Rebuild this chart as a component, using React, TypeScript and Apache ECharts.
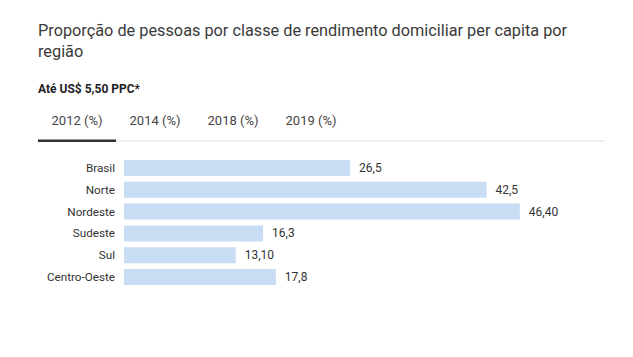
import React, { useEffect, useRef } from "react";
import * as echarts from "echarts";

const categories = ["Brasil", "Norte", "Nordeste", "Sudeste", "Sul", "Centro-Oeste"];
const values = [26.5, 42.5, 46.4, 16.3, 13.1, 17.8];
const valueLabels = ["26,5", "42,5", "46,40", "16,3", "13,10", "17,8"];
const tabs = ["2012 (%)", "2014 (%)", "2018 (%)", "2019 (%)"];
const titleLines = ["Proporção de pessoas por classe de rendimento domiciliar per capita por", "região"];
const subtitle = "Até US$ 5,50 PPC*";

const FONT = "Roboto, 'Noto Sans', sans-serif";

export default function App() {
  const ref = useRef<HTMLDivElement>(null);
  useEffect(() => {
    if (!ref.current) return;
    const chart = echarts.init(ref.current, null, { renderer: "svg" });
    const tabW = 78;
    const graphics: any[] = [];
    titleLines.forEach((t, i) => {
      graphics.push({
        type: "text",
        left: 38,
        top: 22 + i * 21,
        style: { text: t, fill: "#3a3a3a", font: `16.3px ${FONT}` },
      });
    });
    graphics.push({
      type: "text",
      left: 38,
      top: 83,
      style: { text: subtitle, fill: "#222", font: `bold 12px ${FONT}` },
    });
    tabs.forEach((t, i) => {
      graphics.push({
        type: "text",
        x: 38 + tabW * i + tabW / 2,
        y: 120,
        style: { text: t, fill: "#444", font: `13px ${FONT}`, align: "center", verticalAlign: "middle" },
      });
    });
    graphics.push({ type: "rect", shape: { x: 38, y: 140.5, width: 567, height: 1 }, style: { fill: "#e0e0e0" } });
    graphics.push({ type: "rect", shape: { x: 38, y: 139.5, width: tabW, height: 2.5 }, style: { fill: "#333" } });

    chart.setOption({
      animation: false,
      graphic: graphics,
      grid: { left: 124, top: 157, width: 426.5, height: 131, containLabel: false },
      xAxis: { type: "value", min: 0, max: 50, show: false },
      yAxis: {
        type: "category",
        inverse: true,
        data: categories,
        axisLine: { show: false },
        axisTick: { show: false },
        axisLabel: { color: "#333", fontSize: 11.7, fontFamily: FONT, margin: 9 },
      },
      series: [
        {
          type: "bar",
          data: values,
          barWidth: 16,
          itemStyle: { color: "#c8dcf3" },
          label: {
            show: true,
            position: "right",
            distance: 9,
            color: "#333",
            fontSize: 12,
            fontFamily: FONT,
            formatter: (p: any) => valueLabels[p.dataIndex],
          },
        },
      ],
    });
    return () => chart.dispose();
  }, []);
  return <div ref={ref} style={{ position: "absolute", left: 0, top: 0, width: 633, height: 357 }} />;
}
